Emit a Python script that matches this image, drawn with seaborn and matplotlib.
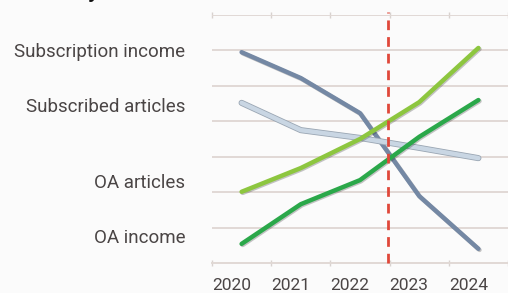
import matplotlib
matplotlib.use("Agg")
import matplotlib.pyplot as plt
import matplotlib.patheffects as pe
import seaborn as sns
import pandas as pd
import numpy as np

years = ["2020", "2021", "2022", "2023", "2024"]
subscription_income = [5.95, 5.22, 4.23, 1.89, 0.40]
subscribed_articles = [4.52, 3.75, 3.53, 3.25, 2.96]
oa_articles = [2.01, 2.68, 3.50, 4.54, 6.07]
oa_income = [0.54, 1.66, 2.34, 3.56, 4.60]

series_names = ["Subscription income", "Subscribed articles", "OA articles", "OA income"]
label_y = [5.96, 4.40, 2.26, 0.71]
colors = ["#7488a4", "#c9d6e3", "#8dc63f", "#2ba84a"]
cutoff = 2.48

rows = []
for name, vals in zip(series_names,
                      [subscription_income, subscribed_articles, oa_articles, oa_income]):
    for i, v in enumerate(vals):
        rows.append({"series": name, "pos": i, "value": v})
df = pd.DataFrame(rows)

sns.set_theme(style="white")
plt.rcParams["font.family"] = ["Roboto", "DejaVu Sans"]

W, H = 508, 293
fig = plt.figure(figsize=(W / 100, H / 100), dpi=100, facecolor="#fbfbfb")
ax = fig.add_axes([212 / W, (H - 263) / H, (W - 212) / W, 248 / H])
ax.set_facecolor("#fbfbfb")

sns.lineplot(data=df, x="pos", y="value", hue="series", hue_order=series_names,
             palette=colors, legend=False, ax=ax, linewidth=3.2, zorder=3)

for line, name in zip(ax.get_lines(), series_names):
    line.set_solid_capstyle("round")
    line.set_solid_joinstyle("round")
    if name == "Subscribed articles":
        line.set_path_effects([pe.Stroke(linewidth=4.4, foreground="#9aa6b3"), pe.Normal()])
    else:
        line.set_path_effects([pe.SimpleLineShadow(offset=(0.8, -0.8), alpha=0.25), pe.Normal()])

ax.set_xlim(-0.5, -0.5 + (W - 212) / 60)
ax.set_ylim(0, 7)

# grid
ax.set_yticks(np.arange(0, 8))
ax.yaxis.grid(True, color="#e1d9d5", linewidth=1.4)
ax.tick_params(axis="y", left=False, labelleft=False)

# x ticks: labels at major, marks at boundaries
ax.set_xticks(np.arange(len(years)) - 0.17)
ax.set_xticklabels(years)
ax.set_xticks(np.arange(len(years) + 1) - 0.5, minor=True)
ax.tick_params(axis="x", which="major", length=0, pad=11, labelsize=12.5, labelcolor="#4a4545")
ax.tick_params(axis="x", which="minor", length=4, width=1, color="#d8d2cf",
               top=True, bottom=True, direction="inout")
ax.set_xlabel("")
ax.set_ylabel("")

for s in ["left", "right", "top"]:
    ax.spines[s].set_visible(False)
ax.spines["bottom"].set_color("#e1d9d5")
ax.spines["bottom"].set_linewidth(1.4)

ax.axvline(cutoff, ymin=0, ymax=1.012, color="#e0483a", linewidth=2,
           linestyle=(0, (3.5, 2.5)), clip_on=False, zorder=4)

for name, yv in zip(series_names, label_y):
    ax.text(-0.09, yv, name, transform=ax.get_yaxis_transform(), ha="right", va="center",
            fontsize=13.5, color="#4a4545")

fig.text(88 / W, 1 + 2.5 / H, "y", ha="left", va="baseline", fontsize=16,
         fontweight="bold", color="#111111")

fig.savefig("out.png", dpi=100, facecolor=fig.get_facecolor())
